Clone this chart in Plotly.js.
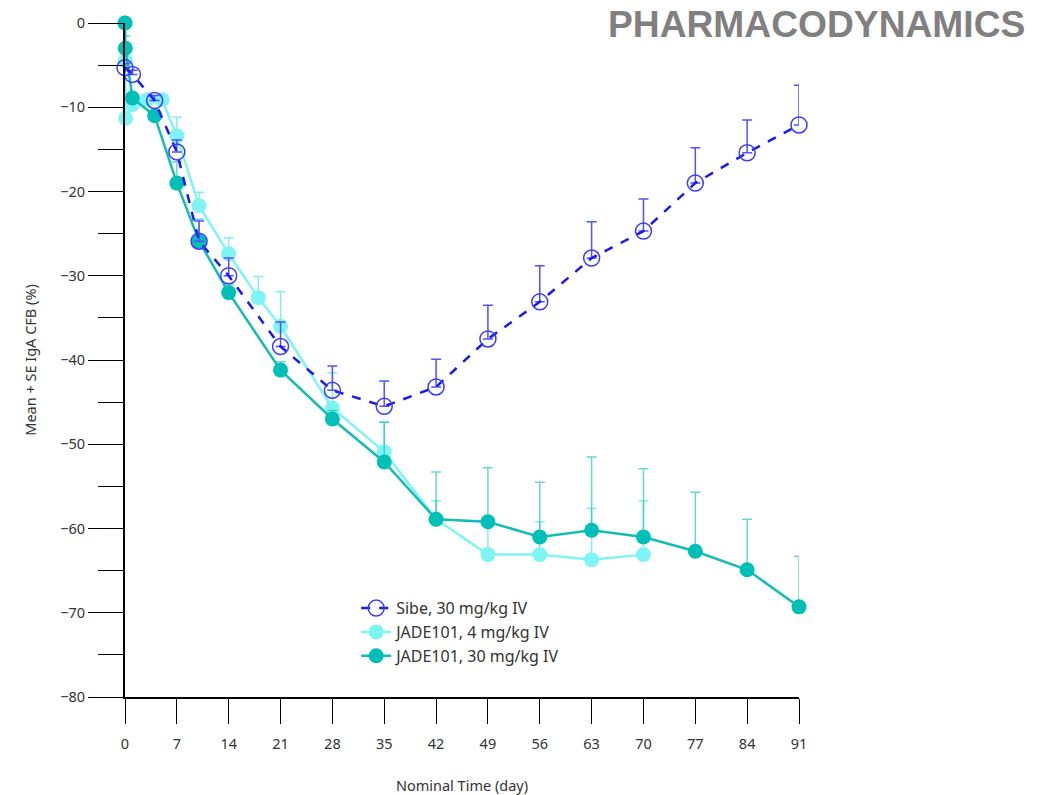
<!DOCTYPE html>
<html>
<head>
<meta charset="utf-8">
<script src="https://cdn.plot.ly/plotly-3.0.1.min.js"></script>
<style>html,body{margin:0;padding:0;background:#fff;}#chart{width:1059px;height:795px;}</style>
</head>
<body>
<div id="chart"></div>
<script>
// Sibe, 30 mg/kg IV
const sibeDay = [0, 1, 4, 7, 10, 14, 21, 28, 35, 42, 49, 56, 63, 70, 77, 84, 91];
const sibeMean = [-5.3, -6.1, -9.2, -15.3, -25.9, -30.0, -38.4, -43.6, -45.5, -43.2, -37.5, -33.1, -27.9, -24.7, -19.0, -15.4, -12.1];
const sibeSE = [0.5, 0.5, 0.6, 1.4, 2.4, 2.1, 2.9, 2.9, 3.0, 3.3, 4.0, 4.3, 4.3, 3.8, 4.2, 3.9, 4.7];

// JADE101, 4 mg/kg IV
const jade4Day = [0, 0.04, 0.08, 1, 3, 5, 7, 10, 14, 18, 21, 28, 35, 42, 49, 56, 63, 70];
const jade4Mean = [0, -4.5, -11.3, -9.7, -9.1, -9.1, -13.4, -21.7, -27.4, -32.6, -36.0, -45.7, -50.9, -58.9, -63.1, -63.1, -63.7, -63.1];
const jade4SE = [0, 0.5, 2.2, 0.5, 0.5, 0.5, 2.2, 1.6, 1.9, 2.5, 4.1, 4.2, 3.5, 2.2, 4.3, 3.9, 6.1, 6.4];

// JADE101, 30 mg/kg IV
const jade30Day = [0, 0.04, 1, 4, 7, 10, 14, 21, 28, 35, 42, 49, 56, 63, 70, 77, 84, 91];
const jade30Mean = [0, -3.0, -8.9, -11.0, -19.0, -25.9, -32.0, -41.2, -47.0, -52.1, -58.9, -59.2, -61.0, -60.2, -61.0, -62.7, -64.9, -69.3];
const jade30SE = [0, 1.5, 0.5, 0.5, 2.5, 2.6, 1.0, 1.0, 1.0, 4.7, 5.6, 6.4, 6.5, 8.7, 8.1, 7.0, 6.0, 6.0];

const xTicks = [0, 7, 14, 21, 28, 35, 42, 49, 56, 63, 70, 77, 84, 91];
const seriesNames = ['Sibe, 30 mg/kg IV', 'JADE101, 4 mg/kg IV', 'JADE101, 30 mg/kg IV'];

const zeros = a => a.map(() => 0);
const FONT = 'Noto Sans, Open Sans, sans-serif';

const traces = [
  {
    x: jade4Day, y: jade4Mean, name: seriesNames[1], legendrank: 2,
    type: 'scatter', mode: 'lines+markers', cliponaxis: false,
    line: {color: '#7ff4f4', width: 2.5},
    marker: {color: '#7ff4f4', size: 15, symbol: 'circle'},
    error_y: {type: 'data', symmetric: false, array: jade4SE, arrayminus: zeros(jade4SE), color: '#86eeee', thickness: 1.5, width: 5}
  },
  {
    x: jade30Day, y: jade30Mean, name: seriesNames[2], legendrank: 3,
    type: 'scatter', mode: 'lines+markers', cliponaxis: false,
    line: {color: '#12bdb6', width: 2.5},
    marker: {color: '#00bfb7', size: 15, symbol: 'circle'},
    error_y: {type: 'data', symmetric: false, array: jade30SE, arrayminus: zeros(jade30SE), color: 'rgba(0,190,185,0.6)', thickness: 1.5, width: 5}
  },
  {
    x: sibeDay, y: sibeMean, name: seriesNames[0], legendrank: 1,
    type: 'scatter', mode: 'lines+markers', cliponaxis: false,
    line: {color: '#1a1aee', width: 2.5, dash: 'dash'},
    marker: {color: '#3b3bff', size: 16, symbol: 'circle-open', line: {width: 1.5, color: '#3b3bff'}},
    error_y: {type: 'data', symmetric: false, array: sibeSE, arrayminus: zeros(sibeSE), color: '#5252ff', thickness: 1.5, width: 5}
  }
];

const layout = {
  width: 1059, height: 795,
  margin: {l: 125, r: 260, t: 23, b: 98},
  paper_bgcolor: '#fff', plot_bgcolor: '#fff',
  font: {family: FONT, size: 14, color: '#333'},
  showlegend: true,
  legend: {x: 0.343, y: 0.157, xanchor: 'left', yanchor: 'top', bgcolor: 'rgba(0,0,0,0)', font: {size: 16, color: '#333'}, tracegroupgap: 0, itemwidth: 30},
  xaxis: {
    range: [0, 91], tickvals: xTicks, ticktext: xTicks.map(String),
    ticks: 'outside', ticklen: 25, tickwidth: 1, tickcolor: '#000',
    ticklabelstandoff: 8,
    showline: true, linewidth: 2, linecolor: '#000',
    showgrid: false, zeroline: false,
    tickfont: {size: 14.5, color: '#333'},
    title: {text: 'Nominal Time (day)', font: {size: 14.5, color: '#333'}, standoff: 30}
  },
  yaxis: {
    range: [-80, 0], dtick: 10, tick0: 0,
    ticks: 'outside', ticklen: 35, tickwidth: 1, tickcolor: '#000',
    minor: {dtick: 5, tick0: 0, ticks: 'outside', ticklen: 25, tickwidth: 1, tickcolor: '#000', showgrid: false},
    showline: true, linewidth: 2, linecolor: '#000',
    showgrid: false, zeroline: false,
    tickfont: {size: 14.5, color: '#333'},
    title: {text: 'Mean + SE IgA CFB (%)', font: {size: 14.5, color: '#333'}, standoff: 20}
  },
  annotations: [{
    text: '<b>PHARMACODYNAMICS</b>', xref: 'paper', yref: 'paper',
    x: 1.3385, y: 0.9985, xanchor: 'right', yanchor: 'middle', showarrow: false,
    font: {family: 'Liberation Sans, Arial, sans-serif', size: 37.2, color: '#808080'}
  }]
};

Plotly.newPlot('chart', traces, layout, {displayModeBar: false, staticPlot: true});
</script>
</body>
</html>
